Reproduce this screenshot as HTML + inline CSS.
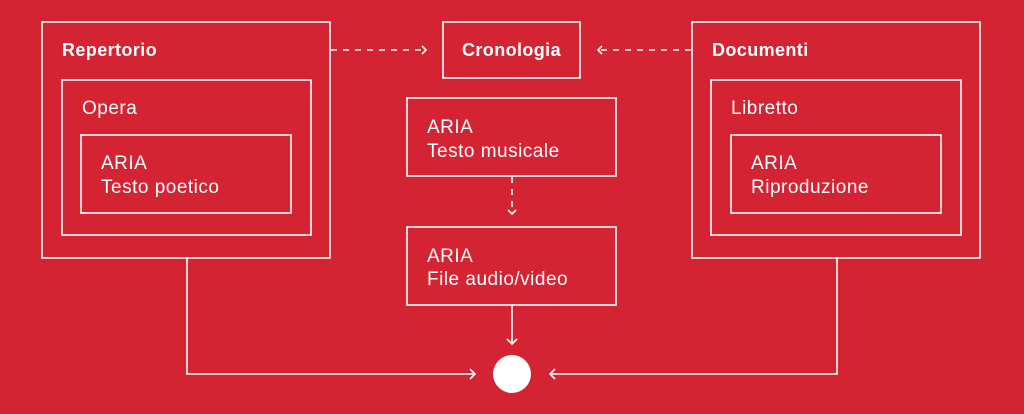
<!DOCTYPE html>
<html><head><style>
body{margin:0;background:#d42333;}
svg{display:block}
text{font-family:"Liberation Sans",sans-serif;fill:#fff;font-size:19px;letter-spacing:0.5px}
.b{font-weight:bold;font-size:18px;letter-spacing:0.4px}
</style></head><body>
<svg width="1024" height="414" viewBox="0 0 1024 414">
<rect width="1024" height="414" fill="#d42333"/>
<g fill="none" stroke="#fff" stroke-width="1.6">
<rect x="42" y="22" width="288" height="236"/>
<rect x="62" y="80" width="249" height="155"/>
<rect x="81" y="135" width="210" height="78"/>
<rect x="443" y="22" width="137" height="56"/>
<rect x="407" y="98" width="209" height="78"/>
<rect x="407" y="227" width="209" height="78"/>
<rect x="692" y="22" width="288" height="236"/>
<rect x="711" y="80" width="250" height="155"/>
<rect x="731" y="135" width="210" height="78"/>
<path d="M331 50H426" stroke-dasharray="6 6"/>
<path d="M422 46l4 4-4 4"/>
<path d="M691 50H598" stroke-dasharray="6 6"/>
<path d="M602 46l-4 4 4 4"/>
<path d="M512 177V214" stroke-dasharray="6 6"/>
<path d="M508 210l4 4 4-4"/>
<path d="M512 305V344"/>
<path d="M507 339l5 5 5-5"/>
<path d="M187 258V374H475"/>
<path d="M470 369l5 5-5 5"/>
<path d="M837 258V374H550"/>
<path d="M555 369l-5 5 5 5"/>
</g>
<circle cx="512" cy="374" r="19" fill="#fff"/>
<text x="62" y="56" class="b">Repertorio</text>
<text x="82" y="114">Opera</text>
<text x="101" y="169">ARIA</text>
<text x="101" y="193">Testo poetico</text>
<text x="462" y="56" class="b">Cronologia</text>
<text x="427" y="133">ARIA</text>
<text x="427" y="157">Testo musicale</text>
<text x="427" y="262">ARIA</text>
<text x="427" y="285">File audio/video</text>
<text x="712" y="56" class="b">Documenti</text>
<text x="731" y="114">Libretto</text>
<text x="751" y="169">ARIA</text>
<text x="751" y="193">Riproduzione</text>
</svg>
</body></html>
